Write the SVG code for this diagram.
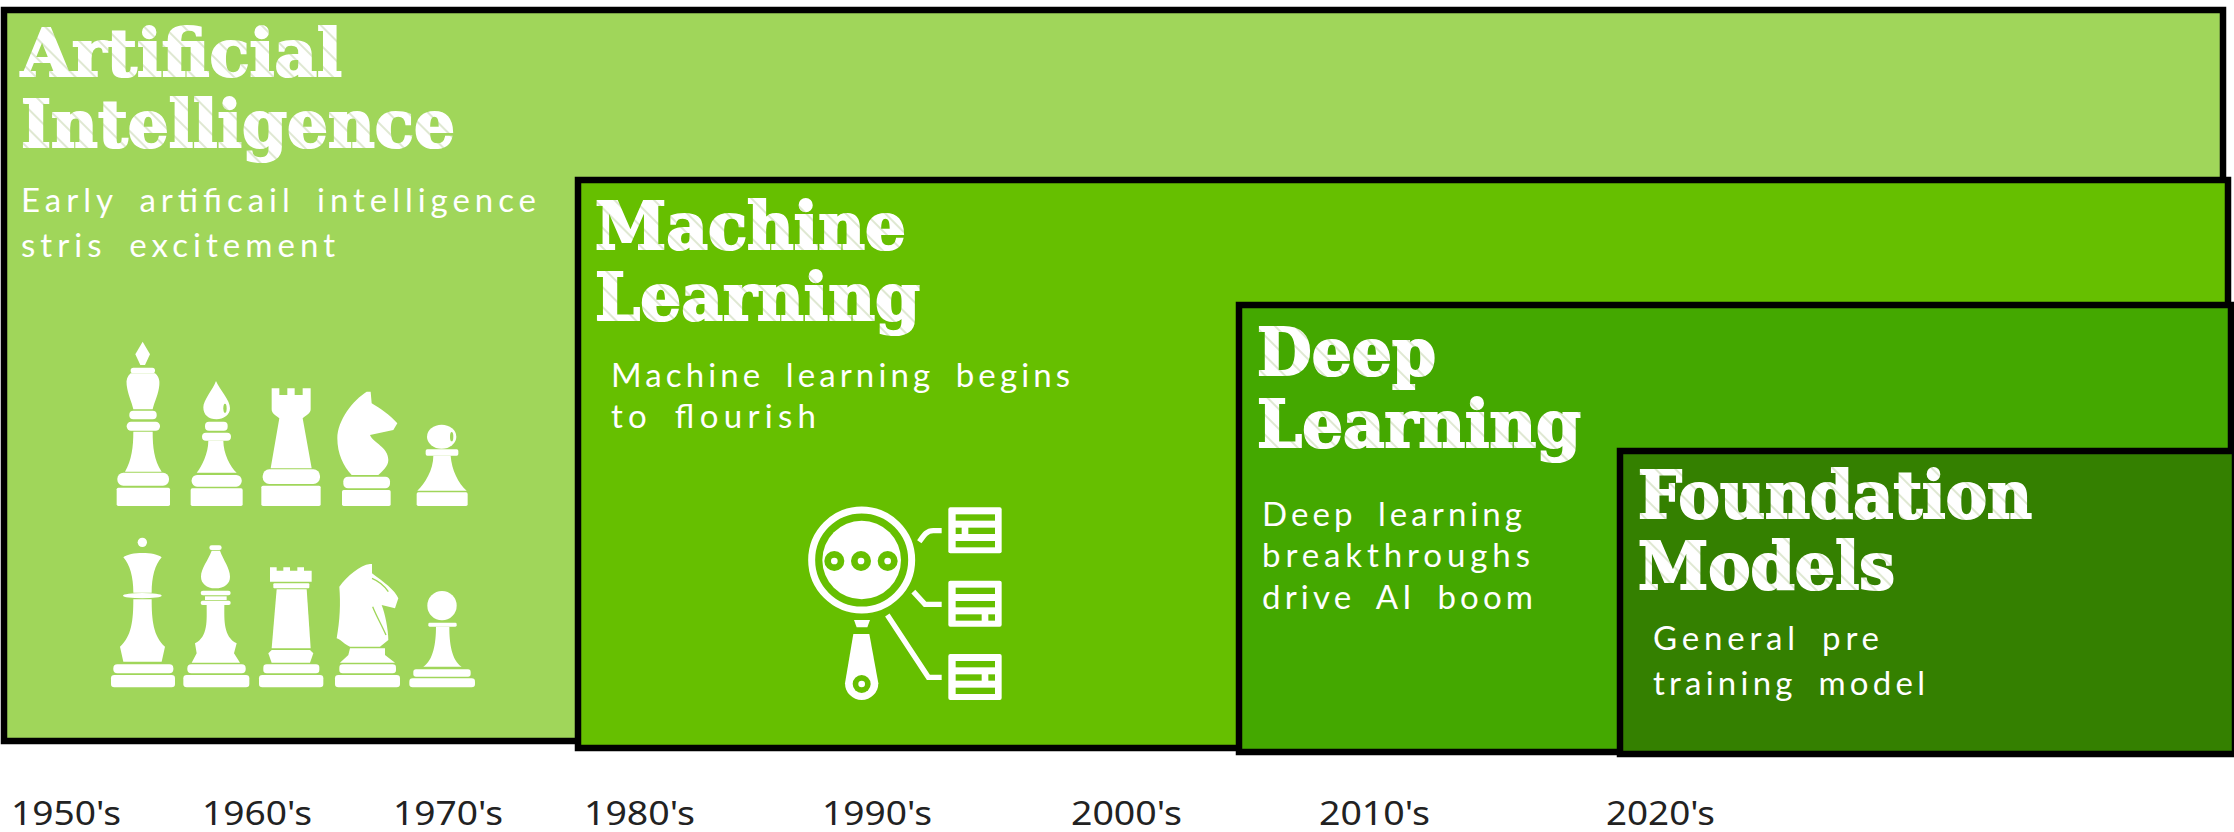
<svg xmlns="http://www.w3.org/2000/svg" width="2234" height="832" viewBox="0 0 2234 832">
<style>
.box{stroke:#000;stroke-width:6.5}
.t{font-family:"DejaVu Serif","Liberation Serif",serif;font-weight:700;font-size:66px;fill:url(#chalk);stroke:url(#chalk);stroke-width:2.2px}
.b{font-family:Lato,"Open Sans",sans-serif;font-weight:400;font-size:33px;word-spacing:9px;fill:#fff}
.y{font-family:"Noto Sans","Open Sans",sans-serif;font-size:33px;fill:#222}
.w{fill:#fff}
.s{fill:none;stroke:#fff;stroke-width:16}
.r{fill:none;stroke:#fff;stroke-width:21}
.g{fill:#66bf00}
.l{fill:#a0d65a}
</style>
<defs>
<pattern id="chalk" patternUnits="userSpaceOnUse" width="14" height="14" patternTransform="rotate(45)">
<rect width="14" height="14" fill="#fff"/>
<rect x="0" y="0" width="14" height="2" fill="#dfe8d2"/>
</pattern>
</defs>

<g id="artificial-intelligence">
<rect class="box" x="4" y="10" width="2219" height="731" fill="#a0d65a"/>
<text class="t" x="21" y="76" textLength="321" lengthAdjust="spacingAndGlyphs">Artificial</text>
<text class="t" x="21" y="147" textLength="434" lengthAdjust="spacingAndGlyphs">Intelligence</text>
<text class="b" x="21" y="212" textLength="515">Early artificail intelligence</text>
<text class="b" x="21" y="257" textLength="314">stris excitement</text>
<g id="chess-pieces" transform="translate(80 320) scale(.33333)">
<g class="w">
<path d="M188,65L210,103L195,135H181L166,103Z"/>
<rect x="152" y="143" width="73" height="17" rx="8"/>
<path d="M152,160C142,168 138,180 140,195C143,222 155,245 160,268H218C223,245 236,222 238,195C240,180 235,168 225,160Z"/>
<rect x="148" y="272" width="82" height="26" rx="12"/>
<rect x="140" y="305" width="100" height="27" rx="13"/>
<path d="M160,335C160,380 155,420 135,455H245C222,420 218,380 218,335Z"/>
<rect x="112" y="458" width="155" height="39" rx="18"/>
<rect x="110" y="503" width="160" height="55" rx="5"/>

<path d="M408,183C420,210 450,240 450,265C450,285 430,298 410,298C385,298 370,285 370,262C370,240 398,210 408,183Z"/>
<rect x="375" y="305" width="68" height="27" rx="12"/>
<rect x="366" y="338" width="87" height="24" rx="12"/>
<path d="M385,362C385,400 365,440 350,458H470C450,440 430,400 430,362Z"/>
<rect x="335" y="465" width="150" height="35" rx="16"/>
<rect x="332" y="505" width="156" height="53" rx="5"/>

<path d="M575,205H598V225H622V205H644V225H668V205H692V268C692,280 680,285 668,295L695,445H572L598,295C585,285 575,280 575,268Z"/>
<rect x="548" y="448" width="172" height="44" rx="20"/>
<rect x="544" y="497" width="178" height="61" rx="5"/>

<path d="M860,215L872,215L875,250C900,265 930,285 952,310L940,330L870,345C880,370 925,380 925,420C925,440 905,455 895,465H815C790,440 772,400 772,355C772,300 820,240 860,215Z"/>
<rect x="790" y="470" width="140" height="35" rx="14"/>
<rect x="786" y="510" width="146" height="48" rx="5"/>

<ellipse cx="1085" cy="350" rx="44" ry="36"/>
<rect x="1037" y="388" width="98" height="19" rx="5"/>
<path d="M1060,407C1060,450 1035,490 1012,512H1160C1135,490 1115,450 1112,407Z"/>
<rect x="1010" y="517" width="153" height="41" rx="5"/>
</g>
<ellipse class="l" cx="435" cy="265" rx="5" ry="14"/>
<ellipse class="l" cx="1115" cy="350" rx="5" ry="14"/>
<g class="w">
<circle cx="187" cy="667" r="14"/>
<path d="M130,712C150,695 225,695 245,712C225,735 215,770 215,818H160C160,770 150,735 130,712Z"/>
<ellipse cx="187" cy="827" rx="58" ry="8"/>
<path d="M160,838C160,900 155,950 120,980L130,1025H245L255,980C220,950 215,900 215,838Z"/>
<rect x="100" y="1033" width="180" height="27" rx="12"/>
<rect x="93" y="1065" width="192" height="37" rx="10"/>

<rect x="388" y="676" width="37" height="14" rx="7"/>
<path d="M395,692H420C430,720 450,745 450,770C450,790 435,805 405,805C380,805 363,790 363,770C363,745 385,720 395,692Z"/>
<rect x="362" y="812" width="90" height="14" rx="7"/>
<rect x="375" y="829" width="65" height="11"/>
<rect x="362" y="842" width="90" height="13" rx="6"/>
<path d="M380,855C380,900 385,950 345,970L350,1000L335,1028H480L462,1000L470,970C430,950 433,900 433,855Z"/>
<rect x="322" y="1033" width="175" height="27" rx="12"/>
<rect x="310" y="1065" width="198" height="37" rx="10"/>

<path d="M570,742H590V752H610V742H630V752H652V742H672V752H695V785H570Z"/>
<rect x="580" y="790" width="108" height="15" rx="3"/>
<path d="M590,808H680L692,985H575Z"/>
<path d="M575,990H690L700,1000L690,1028H575L565,1000Z"/>
<rect x="550" y="1033" width="168" height="27" rx="10"/>
<rect x="537" y="1065" width="193" height="37" rx="10"/>

<path d="M870,732L876,732V760C910,785 945,810 955,835L945,865L905,855C915,880 925,930 925,960L900,980H810C795,975 785,960 770,955C780,900 782,850 778,800C800,770 840,735 870,732Z"/>
<path d="M810,985H915V1005L945,1028H780L805,1005Z"/>
<rect x="778" y="1033" width="170" height="27" rx="10"/>
<rect x="765" y="1065" width="195" height="37" rx="10"/>

<circle cx="1086" cy="857" r="44"/>
<rect x="1045" y="908" width="85" height="12" rx="4"/>
<path d="M1068,920C1068,970 1060,1020 1030,1040H1145C1115,1020 1108,970 1108,920Z"/>
<rect x="1000" y="1048" width="172" height="22" rx="8"/>
<rect x="988" y="1075" width="197" height="27" rx="10"/>
</g>
<path d="M878,860C890,890 905,915 918,945" fill="none" stroke="#a0d65a" stroke-width="4"/>
<path d="M876,775C900,785 915,800 925,815" fill="none" stroke="#a0d65a" stroke-width="4"/>
</g>
</g>

<g id="machine-learning">
<rect class="box" x="578" y="180" width="1650" height="568" fill="#66bf00"/>
<text class="t" x="595" y="249" textLength="311" lengthAdjust="spacingAndGlyphs">Machine</text>
<text class="t" x="595" y="320" textLength="325" lengthAdjust="spacingAndGlyphs">Learning</text>
<text class="b" x="611" y="387" textLength="459">Machine learning begins</text>
<text class="b" x="611" y="428" textLength="205">to flourish</text>
<g id="search-icon" transform="translate(780 480) scale(.33333)">
<circle class="r" cx="245" cy="240" r="150"/>
<circle class="w" cx="245" cy="240" r="118"/>
<circle class="g" cx="163" cy="243" r="30"/><circle class="g" cx="243" cy="243" r="30"/><circle class="g" cx="323" cy="243" r="30"/>
<circle class="w" cx="163" cy="243" r="10"/><circle class="w" cx="243" cy="243" r="10"/><circle class="w" cx="323" cy="243" r="10"/>
<path class="w" d="M222,420H270L262,442H230Z"/>
<path class="w" d="M220,462H268L295,610A50,50 0 1 1 195,610Z"/>
<circle class="g" cx="245" cy="612" r="27"/><circle class="w" cx="245" cy="612" r="10"/>
<path class="s" d="M418,185C432,165 440,152 460,152H485"/>
<path class="s" d="M400,335L435,373H485"/>
<path class="s" d="M322,405L445,592H485"/>
<rect class="w" x="505" y="82" width="160" height="138" rx="6"/>
<rect class="w" x="505" y="302" width="160" height="138" rx="6"/>
<rect class="w" x="505" y="522" width="160" height="138" rx="6"/>
<g class="g">
<rect x="527" y="103" width="118" height="19"/><rect x="527" y="143" width="18" height="19"/><rect x="565" y="143" width="80" height="19"/><rect x="527" y="183" width="118" height="19"/>
<rect x="527" y="323" width="118" height="19"/><rect x="527" y="363" width="118" height="19"/><rect x="527" y="403" width="78" height="19"/><rect x="625" y="403" width="20" height="19"/>
<rect x="527" y="543" width="118" height="19"/><rect x="527" y="583" width="78" height="19"/><rect x="625" y="583" width="20" height="19"/><rect x="527" y="623" width="118" height="19"/>
</g>
</g>
</g>

<g id="deep-learning">
<rect class="box" x="1239" y="305" width="992" height="447" fill="#44a800"/>
<text class="t" x="1257" y="375" textLength="179" lengthAdjust="spacingAndGlyphs">Deep</text>
<text class="t" x="1257" y="447" textLength="324" lengthAdjust="spacingAndGlyphs">Learning</text>
<text class="b" x="1262" y="526" textLength="260">Deep learning</text>
<text class="b" x="1262" y="567" textLength="268">breakthroughs</text>
<text class="b" x="1262" y="609" textLength="271">drive AI boom</text>
</g>

<g id="foundation-models">
<rect class="box" x="1620" y="451" width="615" height="303" fill="#348000"/>
<text class="t" x="1638" y="518" textLength="394" lengthAdjust="spacingAndGlyphs">Foundation</text>
<text class="t" x="1638" y="589" textLength="257" lengthAdjust="spacingAndGlyphs">Models</text>
<text class="b" x="1653" y="650" textLength="226">General pre</text>
<text class="b" x="1653" y="695" textLength="272">training model</text>
</g>

<g id="timeline">
<text class="y" x="11" y="825" textLength="110" lengthAdjust="spacingAndGlyphs">1950's</text>
<text class="y" x="202" y="825" textLength="110" lengthAdjust="spacingAndGlyphs">1960's</text>
<text class="y" x="393" y="825" textLength="110" lengthAdjust="spacingAndGlyphs">1970's</text>
<text class="y" x="584" y="825" textLength="111" lengthAdjust="spacingAndGlyphs">1980's</text>
<text class="y" x="822" y="825" textLength="110" lengthAdjust="spacingAndGlyphs">1990's</text>
<text class="y" x="1071" y="825" textLength="111" lengthAdjust="spacingAndGlyphs">2000's</text>
<text class="y" x="1319" y="825" textLength="111" lengthAdjust="spacingAndGlyphs">2010's</text>
<text class="y" x="1606" y="825" textLength="109" lengthAdjust="spacingAndGlyphs">2020's</text>
</g>
</svg>
